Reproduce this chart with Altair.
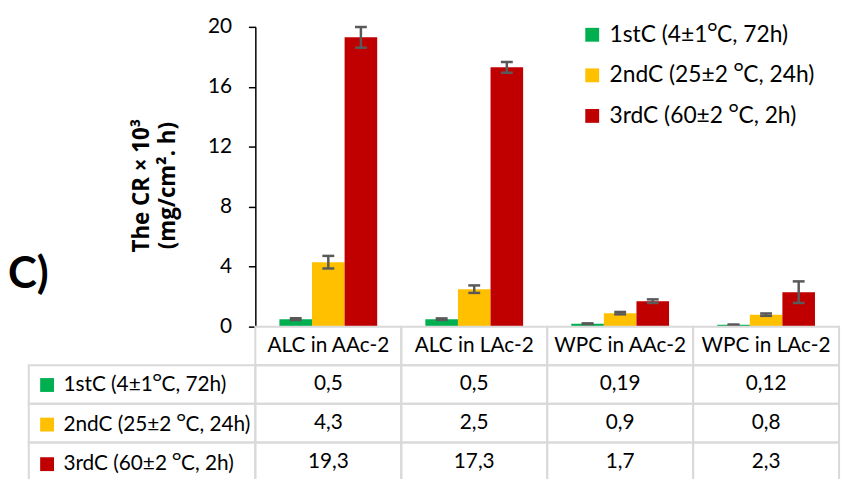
import altair as alt
import pandas as pd

categories = ["ALC in AAc-2", "ALC in LAc-2", "WPC in AAc-2", "WPC in LAc-2"]
series = ["1stC (4±1\u1d3cC, 72h)", "2ndC (25±2 \u1d3cC, 24h)", "3rdC (60±2 \u1d3cC, 2h)"]
colors = ["#00B050", "#FFC000", "#C00000"]
cr_1st = [0.5, 0.5, 0.19, 0.12]
cr_2nd = [4.3, 2.5, 0.9, 0.8]
cr_3rd = [19.3, 17.3, 1.7, 2.3]
sd_1st = [0.06, 0.05, 0.03, 0.02]
sd_2nd = [0.42, 0.25, 0.08, 0.08]
sd_3rd = [0.69, 0.36, 0.12, 0.72]
y_ticks = [0, 4, 8, 12, 16, 20]
y_title = ["The CR  \u00d7 10\u00b3", "(mg/cm\u00b2. h)"]
panel_label = "C)"

FONT = "Lato"
FS = 21
GRID = "#D9D9D9"
ERR = "#595959"
NOVIEW = alt.ViewBackground(stroke="transparent", strokeWidth=0)

rows = []
for s, vals, sds in zip(series, [cr_1st, cr_2nd, cr_3rd], [sd_1st, sd_2nd, sd_3rd]):
    for c, v, e in zip(categories, vals, sds):
        rows.append({"cat": c, "series": s, "value": v, "lo": v - e, "hi": v + e,
                     "label": f"{v:g}".replace(".", ",")})
df = pd.DataFrame(rows)

row_dom = ["hdr"] + series
df_tab = pd.concat([
    pd.DataFrame({"cat": categories, "series": ["hdr"] * 4, "label": categories}),
    df[["cat", "series", "label"]],
], ignore_index=True)
df_left = pd.DataFrame({"series": series, "col": ["names"] * len(series)})

# ---- bar panel ----
x_enc = alt.X("cat:N", sort=categories,
              scale=alt.Scale(domain=categories, paddingInner=0.33, paddingOuter=0.165),
              axis=None)
xo = alt.XOffset("series:N", sort=series,
                 scale=alt.Scale(domain=series, paddingInner=0, paddingOuter=0))
y_scale = alt.Scale(domain=[0, 20], nice=False)

legend_top = alt.Legend(orient="none", legendX=329, legendY=-3.5, title=None,
                        symbolType="square", symbolSize=196, symbolStrokeWidth=0,
                        labelFont=FONT, labelFontSize=23, labelColor="black",
                        labelOffset=6, rowPadding=17, padding=0, labelLimit=0)

bars = alt.Chart(df).mark_bar().encode(
    x=x_enc, xOffset=xo,
    y=alt.Y("value:Q", scale=y_scale,
            axis=alt.Axis(values=y_ticks, title=y_title, grid=False,
                          titleFont="Open Sans", titleFontSize=22.5, titleFontWeight="bold",
                          titleColor="black", titlePadding=28, titleLineHeight=27,
                          titleY=160,
                          labelFont=FONT, labelFontSize=FS, labelColor="black",
                          labelPadding=17, tickSize=7, tickColor="black", tickWidth=1.5,
                          domainColor="black", domainWidth=1.5)),
    color=alt.Color("series:N", sort=series,
                    scale=alt.Scale(domain=series, range=colors), legend=legend_top),
)
err = alt.Chart(df).mark_rule(color=ERR, strokeWidth=2.5).encode(
    x=x_enc, xOffset=xo, y="lo:Q", y2="hi:Q")
cap_lo = alt.Chart(df).mark_tick(color=ERR, size=12, thickness=2.5, opacity=1).encode(
    x=x_enc, xOffset=xo, y=alt.Y("lo:Q"))
cap_hi = alt.Chart(df).mark_tick(color=ERR, size=12, thickness=2.5, opacity=1).encode(
    x=x_enc, xOffset=xo, y=alt.Y("hi:Q"))
top = alt.layer(bars, err, cap_lo, cap_hi).properties(width=590, height=303, view=NOVIEW)

# ---- panel label ----
label_chart = alt.Chart(alt.Data(values=[{"t": panel_label}])).mark_text(
    font=FONT, fontSize=44, fontWeight="bold", align="left", baseline="middle",
    color="black").encode(text="t:N", x=alt.value(-21), y=alt.value(251)).properties(
    width=229, height=303, view=NOVIEW)

# ---- table: left label column ----
y_left = alt.Y("series:N", scale=alt.Scale(domain=row_dom, paddingInner=0, paddingOuter=0),
               axis=None)
x_left = alt.X("col:N", scale=alt.Scale(paddingInner=0, paddingOuter=0), axis=None)
legend_left = alt.Legend(orient="none", legendX=8, legendY=48.5, title=None,
                         symbolType="square", symbolSize=196, symbolStrokeWidth=0,
                         symbolOpacity=1,
                         labelFont=FONT, labelFontSize=FS, labelColor="black",
                         labelOffset=6, rowPadding=18, padding=0, labelLimit=0)
left_cells = alt.Chart(df_left).mark_rect(fill="white", fillOpacity=0, stroke=GRID,
                                          strokeWidth=2).encode(x=x_left, y=y_left)
left_sw = alt.Chart(df_left).mark_square(opacity=0).encode(
    x=x_left, y=y_left,
    color=alt.Color("series:N", sort=series, scale=alt.Scale(domain=series, range=colors),
                    legend=legend_left))
left_col = alt.layer(left_cells, left_sw).properties(width=229, height=156, view=NOVIEW)

# ---- table: values ----
x_tab = alt.X("cat:N", scale=alt.Scale(domain=categories, paddingInner=0, paddingOuter=0),
              axis=None)
y_tab = alt.Y("series:N", scale=alt.Scale(domain=row_dom, paddingInner=0, paddingOuter=0),
              axis=None)
cells = alt.Chart(df_tab).mark_rect(fill="white", fillOpacity=0, stroke=GRID,
                                    strokeWidth=2).encode(x=x_tab, y=y_tab)
texts = alt.Chart(df_tab).mark_text(font=FONT, fontSize=FS, color="black").encode(
    x=x_tab, y=y_tab, text="label:N")
table = alt.layer(cells, texts).properties(width=590, height=156, view=NOVIEW)

chart = alt.concat(label_chart, top, left_col, table, columns=2, spacing=0,
                   bounds="flush").resolve_scale(
    color="independent").resolve_legend(color="independent").properties(
    padding={"left": 0, "top": 5.5, "right": 5, "bottom": 0}).configure_view(
    stroke="transparent", strokeWidth=0).configure(font=FONT)

chart.save("out.html", embed_options={"renderer": "svg", "actions": False})
